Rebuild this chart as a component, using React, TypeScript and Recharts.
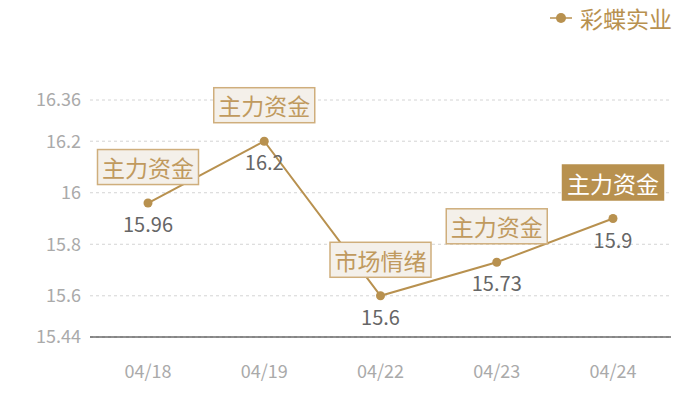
import React from "react";
import {
  LineChart,
  Line,
  XAxis,
  YAxis,
  CartesianGrid,
  Legend,
  LabelList,
} from "recharts";

const categories = ["04/18", "04/19", "04/22", "04/23", "04/24"];
const prices = [15.96, 16.2, 15.6, 15.73, 15.9];
const tags = ["主力资金", "主力资金", "市场情绪", "主力资金", "主力资金"];
const highlighted = [false, false, false, false, true];
const yTicks = [15.44, 15.6, 15.8, 16, 16.2, 16.36];
const seriesName = "彩蝶实业";

const data = categories.map((c, i) => ({
  date: c,
  price: prices[i],
  tag: tags[i],
  hl: highlighted[i],
}));

const FONT = '"Noto Sans CJK SC", "Noto Sans", sans-serif';
const GOLD = "#b8914f";

const TagLabel = (props: any) => {
  const { x, y, index } = props;
  const text = tags[index];
  const hl = highlighted[index];
  const w = 101;
  const h = 35;
  const cy = y - 36;
  return (
    <g>
      <rect
        x={x - w / 2}
        y={cy - h / 2}
        width={w}
        height={h}
        fill={hl ? GOLD : "#f4f0ea"}
        stroke={hl ? GOLD : "#cfae7c"}
        strokeWidth={1.5}
      />
      <text
        x={x}
        y={cy}
        textAnchor="middle"
        dominantBaseline="central"
        fontSize={23}
        fontFamily={FONT}
        fill={hl ? "#ffffff" : "#c09a5e"}
      >
        {text}
      </text>
    </g>
  );
};

const LegendContent = () => (
  <div
    style={{
      display: "flex",
      alignItems: "center",
      height: 28,
      fontFamily: FONT,
      fontSize: 23,
      color: GOLD,
    }}
  >
    <svg width={22} height={14} style={{ marginRight: 8 }}>
      <line x1={0} y1={7} x2={22} y2={7} stroke={GOLD} strokeWidth={1.5} />
      <circle cx={11} cy={7} r={5} fill={GOLD} />
    </svg>
    <span>{seriesName}</span>
  </div>
);

export default function App() {
  return (
    <div style={{ position: "absolute", left: 0, top: 0, width: 700, height: 400, background: "#fff" }}>
      <LineChart
        width={700}
        height={400}
        data={data}
        margin={{ top: 72, right: 29, bottom: 0, left: 0 }}
      >
        <Legend
          verticalAlign="top"
          align="right"
          content={<LegendContent />}
          wrapperStyle={{ top: 4, right: 28, left: "auto", width: "auto", height: 28 }}
        />
        <CartesianGrid
          vertical={false}
          stroke="#d4d4d4"
          strokeDasharray="3 3"
        />
        <XAxis
          dataKey="date"
          padding={{ left: 58, right: 58 }}
          tickLine={false}
          axisLine={{ stroke: "#222222", strokeWidth: 1 }}
          tick={{ fill: "#aaaaaa", fontSize: 18, fontFamily: FONT }}
          tickMargin={22}
          height={63}
        />
        <YAxis
          domain={[15.44, 16.36]}
          ticks={yTicks}
          interval={0}
          width={90}
          axisLine={false}
          tickLine={false}
          tickMargin={3}
          tick={{ fill: "#aaaaaa", fontSize: 18, fontFamily: FONT }}
        />
        <Line
          type="linear"
          dataKey="price"
          name={seriesName}
          stroke={GOLD}
          strokeWidth={2}
          dot={{ r: 4.5, fill: GOLD, stroke: GOLD, strokeWidth: 0 }}
          activeDot={false}
          isAnimationActive={false}
        >
          <LabelList
            dataKey="price"
            position="bottom"
            offset={15}
            fill="#666666"
            fontSize={20}
            fontFamily={FONT}
          />
          <LabelList dataKey="tag" content={<TagLabel />} />
        </Line>
      </LineChart>
    </div>
  );
}
